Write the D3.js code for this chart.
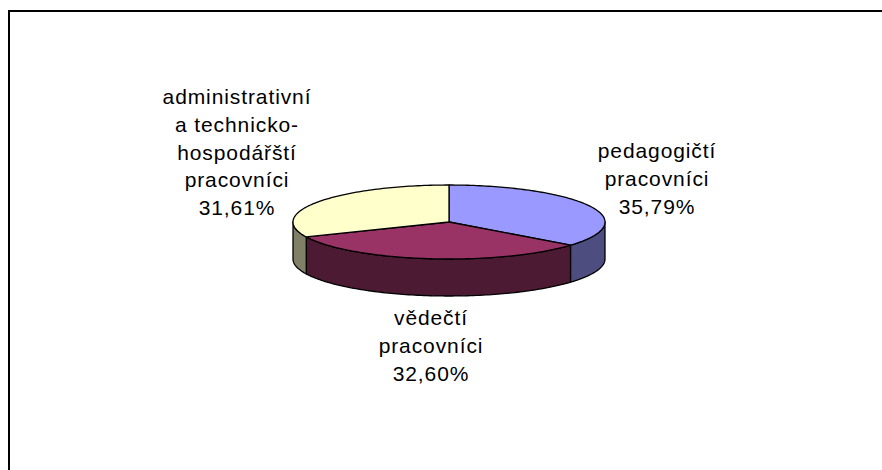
<!DOCTYPE html>
<html>
<head>
<meta charset="utf-8">
<script src="https://cdn.jsdelivr.net/npm/d3@7"></script>
<style>
  html, body { margin: 0; padding: 0; background: #fff; }
  svg { display: block; }
  text { font-family: "Liberation Sans", Arial, sans-serif; font-size: 21px; letter-spacing: 0.9px; fill: #000; }
</style>
</head>
<body>
<svg id="chart" width="882" height="470"></svg>
<script>
// data
const categories = ["pedagogičtí pracovníci", "vědečtí pracovníci", "administrativní a technicko-hospodářští pracovníci"];
const labelLines = [
    ["pedagogičtí", "pracovníci"],
    ["vědečtí", "pracovníci"],
    ["administrativní", "a technicko-", "hospodářští", "pracovníci"]
];
const values = [35.79, 32.60, 31.61];
const topColors = ["#9999ff", "#993366", "#ffffcc"];
const sideColors = ["#4d4d80", "#4d1a33", "#808066"];

// layout
const width = 882, height = 470;
const cx = 449, cy = 222, rx = 156, ry = 37, depth = 37;
const labelPos = [
    { x: 657, y: 158 },
    { x: 431, y: 325 },
    { x: 237, y: 104 }
];
const lineH = 27.8;

const svg = d3.select('#chart');
svg.selectAll("*").remove();

// frame
svg.append("rect")
    .attr("x", 9).attr("y", 11)
    .attr("width", 900).attr("height", 500)
    .attr("fill", "#fff")
    .attr("stroke", "#000")
    .attr("stroke-width", 2);

const pie = d3.pie().sort(null).value(d => d)(values);

const px = a => cx + rx * Math.sin(a);
const py = a => cy - ry * Math.cos(a);

function arcPoints(a0, a1) {
    const n = Math.max(2, Math.ceil(Math.abs(a1 - a0) / 0.02));
    return d3.range(n + 1).map(i => a0 + (a1 - a0) * i / n);
}

const line = d3.line();
const g = svg.append("g");

// side walls (front half only: angles between PI/2 and 3PI/2)
pie.forEach((s, i) => {
    const a0 = Math.max(s.startAngle, Math.PI / 2);
    const a1 = Math.min(s.endAngle, 3 * Math.PI / 2);
    if (a1 <= a0) return;
    const topPts = arcPoints(a0, a1).map(a => [px(a), py(a)]);
    const botPts = arcPoints(a1, a0).map(a => [px(a), py(a) + depth]);
    g.append("path")
        .attr("d", line(topPts.concat(botPts)) + "Z")
        .attr("fill", sideColors[i])
        .attr("stroke", "#000")
        .attr("stroke-width", 1.3)
        .attr("stroke-linejoin", "round");
});

// top faces
pie.forEach((s, i) => {
    const pts = [[cx, cy]].concat(arcPoints(s.startAngle, s.endAngle).map(a => [px(a), py(a)]));
    g.append("path")
        .attr("d", line(pts) + "Z")
        .attr("fill", topColors[i])
        .attr("stroke", "#000")
        .attr("stroke-width", 1.3)
        .attr("stroke-linejoin", "round");
});

// labels
const locale = d3.formatLocale({ decimal: ",", thousands: " ", grouping: [3], currency: ["", " Kč"] });
const fmt = locale.format(".2f");

labelLines.forEach((lines, i) => {
    const allLines = lines.concat([fmt(values[i]) + "%"]);
    const t = svg.append("text")
        .attr("text-anchor", "middle");
    allLines.forEach((l, j) => {
        t.append("tspan")
            .attr("x", labelPos[i].x)
            .attr("y", labelPos[i].y + j * lineH)
            .text(l);
    });
});
</script>
</body>
</html>
